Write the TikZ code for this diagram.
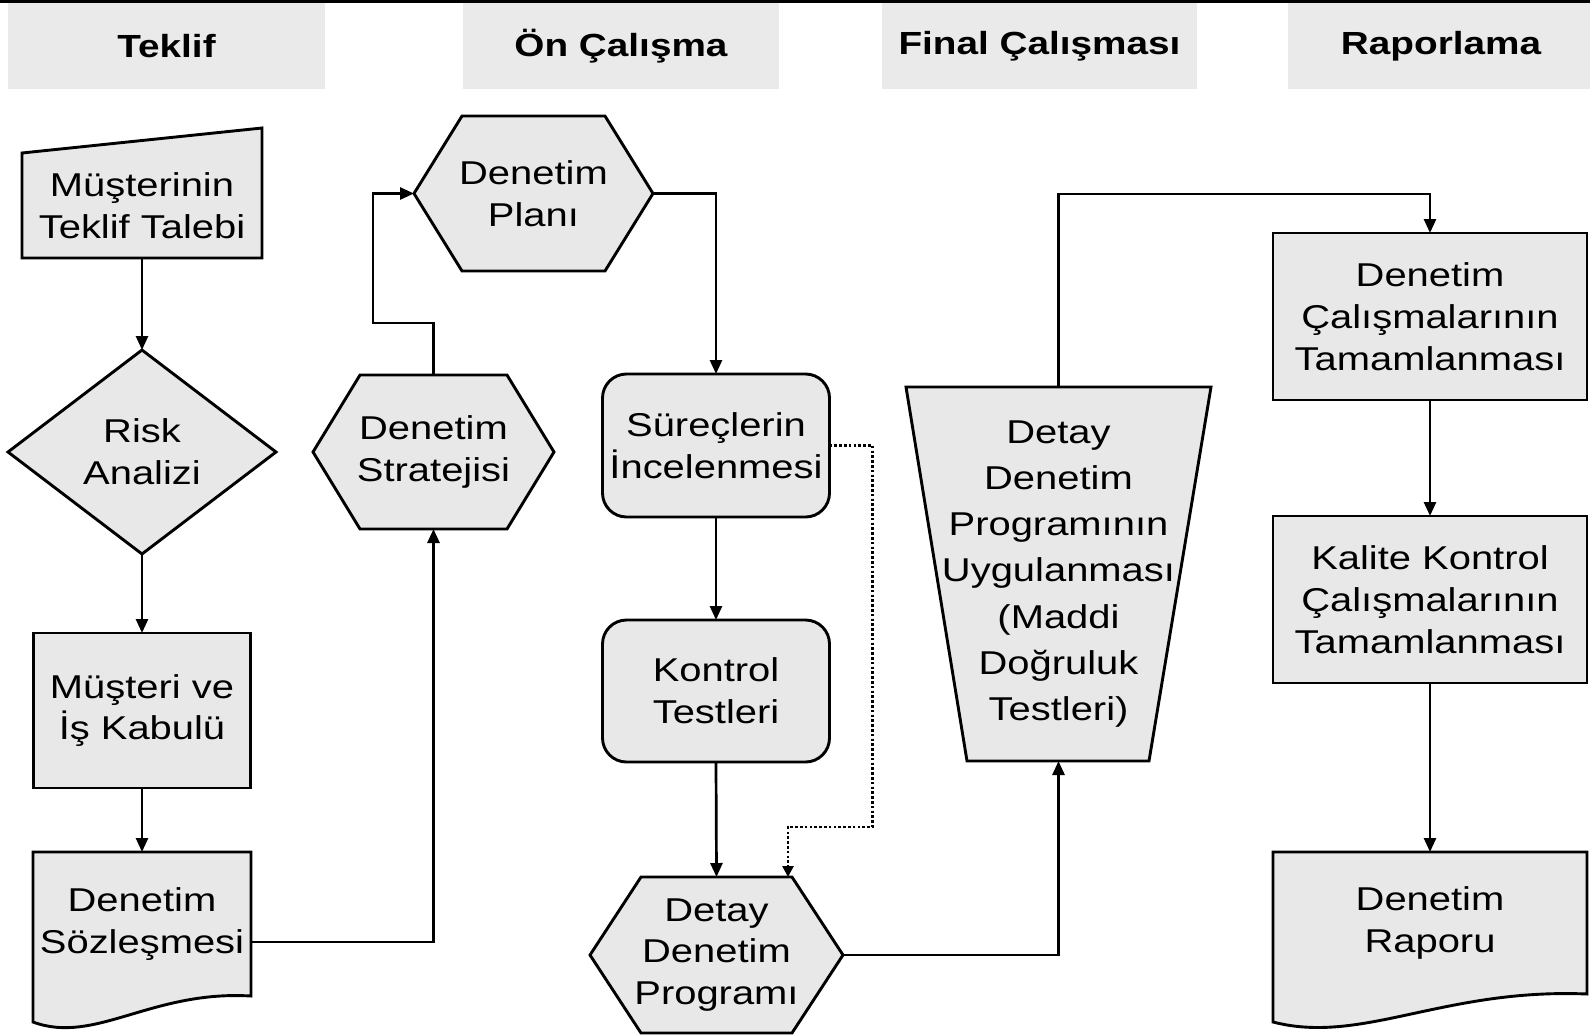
\documentclass[tikz,border=0pt]{standalone}
\usepackage{fontspec}
\setmainfont[FakeStretch=1.21]{Liberation Sans}
\usetikzlibrary{arrows.meta,calc,backgrounds,shapes.geometric}

\definecolor{boxfill}{HTML}{E8E8E8}
\definecolor{headfill}{HTML}{EAEAEA}

\begin{document}
\begin{tikzpicture}[x=1pt,y=-1pt,
  txt/.style={align=center,font=\fontsize{33}{41.7}\selectfont,inner sep=0pt,outer sep=0pt},
  frame/.style={draw=black,line width=2.9pt,fill=boxfill,line join=miter},
  area/.style 2 args={txt,minimum width=#1,minimum height=#2},
  rectbox/.style 2 args={area={#1}{#2},frame},
  roundbox/.style 2 args={area={#1}{#2},frame,rounded corners=24pt},
  head/.style={fill=headfill,inner sep=0pt,minimum width=#1,minimum height=86pt,
    font=\bfseries\fontsize{32}{38}\selectfont},
  arr/.style={line width=2.7pt,-{Triangle[length=14pt,width=12pt]}},
  dots/.style={line width=2.6pt,dash pattern=on 2.6pt off 2.2pt,-{Triangle[length=11pt,width=11pt]}}
]
\useasboundingbox (0,0) rectangle (1590,1034);

% column headers and top rule
\draw[line width=3pt] (0,1.5) -- (1590,1.5);
\node[head=317pt] (h1) at (166.5,46) {Teklif};
\node[head=316pt] (h2) at (621,46) {Ön Çalışma};
\node[head=315pt] (h3) at (1039.5,46) {Final Çalışması};
\node[head=306pt] (h4) at (1441,46) {Raporlama};

% ---- Teklif column ----
\node[area={240pt}{105pt}] (mt) at (142,205.5) {Müşterinin\\Teklif Talebi};
\node[txt,diamond,frame,minimum width=268pt,minimum height=204pt] (rk) at (142,452) {Risk\\Analizi};
\node[rectbox={217pt}{155pt}] (mk) at (142,710.5) {Müşteri ve\\İş Kabulü};
\node[area={218pt}{144pt}] (sz) at (142,924) {Denetim\\Sözleşmesi};

% ---- Ön Çalışma column ----
\node[area={241pt}{154pt}] (st) at (433.5,452) {Denetim\\Stratejisi};
\node[area={239pt}{155pt}] (pl) at (533.5,193.5) {Denetim\\Planı};
\node[roundbox={227pt}{143pt}] (si) at (716,445.5) {Süreçlerin\\İncelenmesi};
\node[roundbox={227pt}{142pt}] (kt) at (716,691) {Kontrol\\Testleri};
\node[area={253pt}{156pt}] (dp) at (716.5,955) {Detay\\Denetim\\Programı};

% ---- Final Çalışması column ----
\node[area={305pt}{374pt},font=\fontsize{33}{46.2}\selectfont] (du) at (1058.5,574)
  {Detay\\Denetim\\Programının\\Uygulanması\\(Maddi\\Doğruluk\\Testleri)};

% ---- Raporlama column ----
\node[rectbox={314pt}{167pt}] (dc) at (1430,316.5) {Denetim\\Çalışmalarının\\Tamamlanması};
\node[rectbox={314pt}{167pt}] (kk) at (1430,599.5) {Kalite Kontrol\\Çalışmalarının\\Tamamlanması};
\node[area={314pt}{142pt}] (dr) at (1430,923) {Denetim\\Raporu};

% outlines of the non-rectangular symbols
\begin{pgfonlayer}{background}
  % manual input
  \path[frame] (mt.south west) -- (mt.north west)
    -- ($(mt.north east)+(0,-25)$) -- (mt.south east) -- cycle;
  % documents with a wavy lower edge
  \path[frame] (sz.north west) -- (sz.north east) -- (sz.south east)
    .. controls ($(sz.south east)+(-100,-6)$) and ($(sz.south west)+(62,49)$)
    .. ($(sz.south west)+(0,26)$) -- cycle;
  \path[frame] (dr.north west) -- (dr.north east) -- (dr.south east)
    .. controls ($(dr.south east)+(-144,-6)$) and ($(dr.south west)+(89,51)$)
    .. ($(dr.south west)+(0,28)$) -- cycle;
  % hexagons
  \path[frame] (st.west) -- ($(st.north west)+(47,0)$) -- ($(st.north east)+(-47,0)$)
    -- (st.east) -- ($(st.south east)+(-47,0)$) -- ($(st.south west)+(47,0)$) -- cycle;
  \path[frame] (pl.west) -- ($(pl.north west)+(48,0)$) -- ($(pl.north east)+(-48,0)$)
    -- (pl.east) -- ($(pl.south east)+(-48,0)$) -- ($(pl.south west)+(48,0)$) -- cycle;
  \path[frame] (dp.west) -- ($(dp.north west)+(51,0)$) -- ($(dp.north east)+(-51,0)$)
    -- (dp.east) -- ($(dp.south east)+(-51,0)$) -- ($(dp.south west)+(51,0)$) -- cycle;
  % inverted trapezoid
  \path[frame] (du.north west) -- (du.north east)
    -- ($(du.south east)+(-62,0)$) -- ($(du.south west)+(61,0)$) -- cycle;
\end{pgfonlayer}

% connectors
\draw[arr] (mt.south) -- (rk.north);
\draw[arr] (rk.south) -- (mk.north);
\draw[arr] (mk.south) -- (sz.north);
\draw[arr] ($(sz.north east)+(0,90)$) -| (st.south);
\draw[arr] (st.north) -- ++(0,-52) -| ($(pl.west)+(-41,0)$) -- (pl.west);
\draw[arr] (pl.east) -| (si.north);
\draw[arr] (si.south) -- (kt.north);
\draw[arr] (kt.south) -- (dp.north);
\draw[dots] (si.east) -- ++(43,0) |- ($(dp.north east)+(-55,-50)$) -- ($(dp.north east)+(-55,0)$);
\draw[arr] (dp.east) -| (du.south);
\draw[arr] (du.north) -- ++(0,-193) -| (dc.north);
\draw[arr] (dc.south) -- (kk.north);
\draw[arr] (kk.south) -- (dr.north);
\end{tikzpicture}
\end{document}
